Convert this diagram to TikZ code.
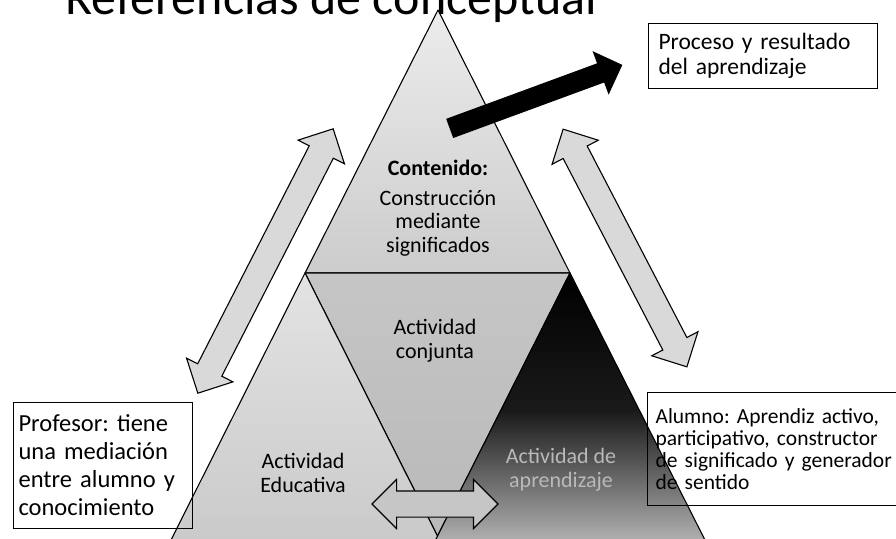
\documentclass[tikz,border=0pt]{standalone}
\usepackage{fontspec}
\setmainfont{Carlito}
\usetikzlibrary{shapes.arrows}
\setlength{\lineskiplimit}{-20pt}
\frenchspacing

\begin{document}
\begin{tikzpicture}[x=1pt, y=-1pt,
  every node/.style={inner sep=0pt},
  edge line/.style={draw=black, line width=1.1pt, line join=round},
  infobox/.style={draw=black, line width=1.1pt, align=left, anchor=north west},
  label text/.style={align=center, font=\fontsize{22}{23.5}\selectfont},
  twoway/.style={double arrow, draw=black, line width=1.1pt, fill=gray!30,
    double arrow head extend=12.5pt, double arrow tip angle=90}]

\path[use as bounding box] (0,0) rectangle (896,538);
\clip (0,0) rectangle (896,538);

\coordinate (apex) at (438,10);
\coordinate (midleft) at (305,273);
\coordinate (midright) at (570,273);
\coordinate (lowmid) at (437.5,536);

\draw[edge line, top color=gray!15, bottom color=gray!40] (apex) -- (midleft) -- (midright) -- cycle;
\draw[edge line, top color=gray!45, bottom color=gray!55] (midleft) -- (midright) -- (lowmid) -- cycle;
\draw[edge line, top color=gray!22, bottom color=gray!42] (midleft) -- (167,548) -- (443.5,548) -- cycle;
\draw[edge line, top color=black, bottom color=gray!55, middle color=black!90] (midright) -- (431.5,548) -- (709,548) -- cycle;

\node (contenido) [label text, font=\bfseries\fontsize{22}{23.5}\selectfont, anchor=base] at (438,175) {Contenido:};
\node (construccion) [label text, anchor=base] at (438,252) {Construcción\\mediante\\significados};
\node (conjunta) [label text, anchor=base] at (435,358) {Actividad\\conjunta};
\node (educativa) [label text, anchor=base] at (303,492) {Actividad\\Educativa};
\node (aprendizaje) [label text, text=gray!55, anchor=base] at (561,487) {Actividad de\\aprendizaje};

\node (linkleft) [twoway, minimum height=297pt, inner ysep=13pt, rotate=62.9] at (265.5,261) {};
\node (linkright) [twoway, minimum height=268pt, inner ysep=13pt, rotate=-62.5] at (625,248) {};
\node (linkbottom) [twoway, fill=gray!45, minimum height=126pt, inner ysep=12.5pt,
  double arrow head extend=11.5pt] at (435,504) {};
\node (outcome) [single arrow, fill=black, minimum height=184pt, inner ysep=10pt,
  single arrow head extend=13pt, single arrow tip angle=90, rotate=20.2, anchor=tail] at (449.5,128.5) {};

\node (proceso) [infobox, inner xsep=10pt, minimum width=229pt, minimum height=65pt, text width=209pt,
  font=\fontsize{23.5}{25}\selectfont] at (648,23) {Proceso y resultado\\del aprendizaje};
\node (profesor) [infobox, inner xsep=5pt, minimum width=179pt, minimum height=126pt, text width=169pt,
  font=\fontsize{24.5}{28}\selectfont] at (13,402) {Profesor: tiene\\una mediación\\entre alumno y\\conocimiento};
\node (alumno) [infobox, inner xsep=8pt, minimum width=270pt, minimum height=113pt, text width=254pt,
  font=\fontsize{21.5}{22}\selectfont] at (647,392)
  {Alumno: Aprendiz activo,\\participativo, constructor\\de significado y generador\\de sentido};

\node (titulo) [anchor=base east, font=\fontsize{50}{50}\selectfont] at (597,14) {Referencias de conceptual};
\end{tikzpicture}
\end{document}
